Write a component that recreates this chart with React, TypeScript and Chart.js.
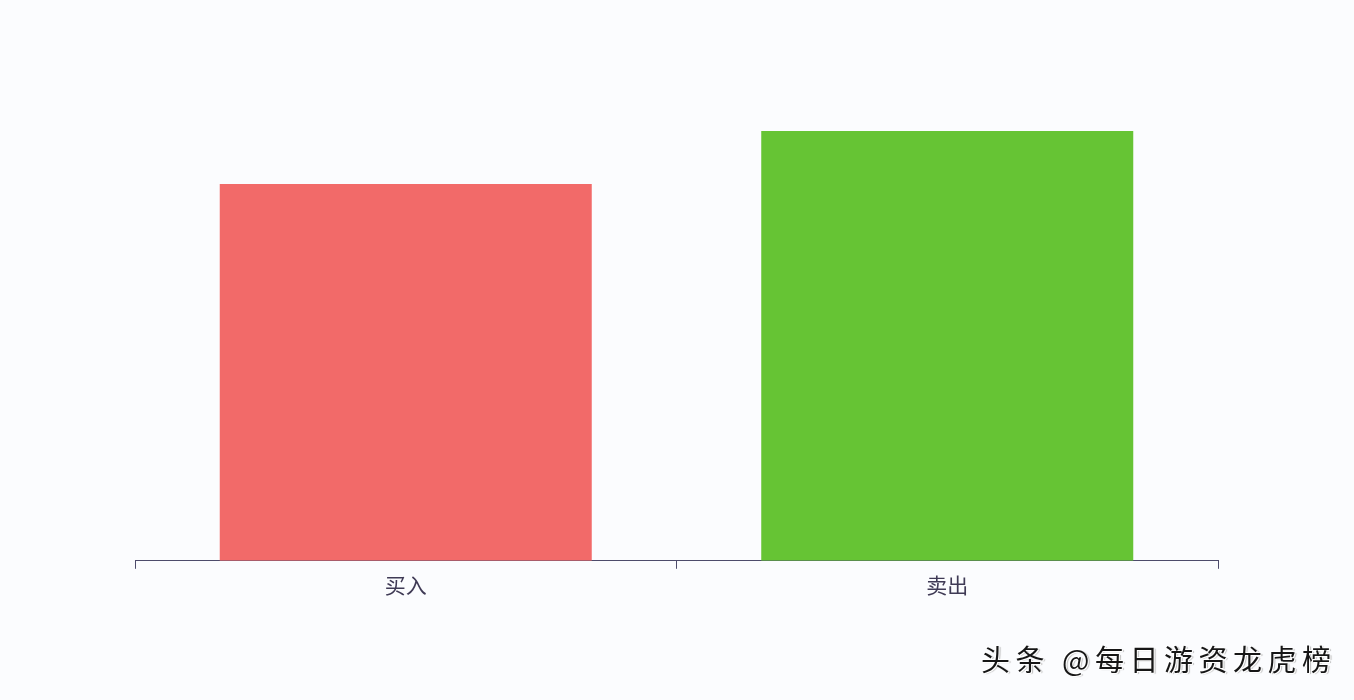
import React, { useEffect, useRef } from "react";
import { Chart, registerables } from "chart.js";

Chart.register(...registerables);

const categories = ["买入", "卖出"];
const values = [1.753, 2.0];
const barColors = ["#f26a69", "#66c434"];
const yMax = 2.0;

export default function App() {
  const ref = useRef<HTMLCanvasElement | null>(null);

  useEffect(() => {
    document.body.style.margin = "0";
    document.body.style.background = "#fbfcfe";
    const ctx = ref.current!.getContext("2d")!;
    const chart = new Chart(ctx, {
      type: "bar",
      data: {
        labels: categories,
        datasets: [
          {
            data: values,
            backgroundColor: barColors,
            borderWidth: 0,
            categoryPercentage: 1,
            barPercentage: 0.687,
          },
        ],
      },
      options: {
        animation: false,
        responsive: false,
        maintainAspectRatio: false,
        layout: { padding: { left: 135, right: 136, top: 131, bottom: 98 } },
        plugins: { legend: { display: false }, tooltip: { enabled: false } },
        scales: {
          x: {
            offset: true,
            border: { display: true, color: "#4d4b6b", width: 1 },
            grid: {
              display: true,
              drawOnChartArea: false,
              drawTicks: true,
              tickLength: 8,
              color: "#4d4b6b",
              offset: true,
            },
            ticks: {
              color: "#3f3a55",
              padding: 4,
              font: { family: "'Noto Sans CJK SC', sans-serif", size: 21 },
            },
          },
          y: {
            display: false,
            min: 0,
            max: yMax,
          },
        },
      },
    });
    return () => chart.destroy();
  }, []);

  return (
    <div style={{ position: "fixed", left: 0, top: 0, width: 1354, height: 700, background: "#fbfcfe" }}>
      <canvas ref={ref} width={1354} height={700} style={{ width: 1354, height: 700, display: "block" }} />
      <span
        style={{
          position: "absolute",
          left: 981,
          top: 640,
          fontFamily: "'Noto Sans CJK SC', sans-serif",
          fontSize: 29,
          fontWeight: 400,
          lineHeight: "36px",
          letterSpacing: "5.5px",
          color: "#161616",
          whiteSpace: "nowrap",
          textShadow: "1px 1px 0 #fff, -1px -1px 0 #fff, 2px 1px 1px #bbb",
        }}
      >
        头条 @每日游资龙虎榜
      </span>
    </div>
  );
}
